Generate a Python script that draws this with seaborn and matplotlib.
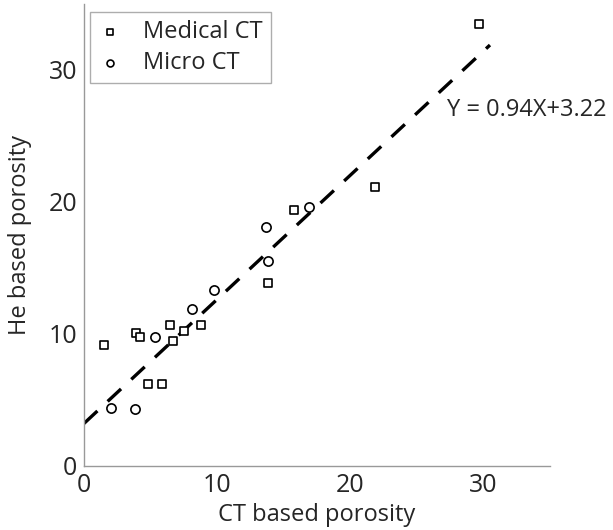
import numpy as np
import pandas as pd
import matplotlib.pyplot as plt
import seaborn as sns

# Valores
medical_x = [1.5, 3.9, 4.2, 6.45, 6.7, 7.5, 8.8, 4.8, 5.85, 13.8, 15.8, 21.9, 29.7]
medical_y = [9.2, 10.1, 9.8, 10.7, 9.5, 10.2, 10.7, 6.2, 6.2, 13.85, 19.4, 21.15, 33.5]
micro_x = [2.0, 3.8, 5.3, 8.1, 9.8, 13.8, 13.7, 16.9]
micro_y = [4.4, 4.3, 9.8, 11.9, 13.3, 15.55, 18.1, 19.6]

pendiente = 0.94
intercepto = 3.22
ajuste_x = [0, 30.5]

sns.set_style("white")
plt.rcParams["font.family"] = ["Open Sans", "DejaVu Sans"]

df_medical = pd.DataFrame({"x": medical_x, "y": medical_y})
df_micro = pd.DataFrame({"x": micro_x, "y": micro_y})

fig = plt.figure(figsize=(6.13, 5.3), dpi=100)
ax = fig.add_axes([0.137, 0.1208, 0.76, 0.8717])

sns.scatterplot(data=df_medical, x="x", y="y", marker="s", s=30, color="white",
                edgecolor="black", linewidth=1.2, ax=ax, label="Medical CT", zorder=3)
sns.scatterplot(data=df_micro, x="x", y="y", marker="o", s=44, color="white",
                edgecolor="black", linewidth=1.2, ax=ax, label="Micro CT", zorder=3)

xs = np.array(ajuste_x)
ax.plot(xs, pendiente * xs + intercepto, color="black", linewidth=2.4,
        dashes=(5.5, 4.2), zorder=2)

ax.text(27.3, 27.0, f"Y = {pendiente}X+{intercepto}", fontsize=17, va="center",
        ha="left", clip_on=False)

ax.set_xlim(0, 35)
ax.set_ylim(0, 35)
ax.set_xticks([0, 10, 20, 30])
ax.set_yticks([0, 10, 20, 30])
ax.set_xlabel("CT based porosity", fontsize=17, labelpad=4)
ax.set_ylabel("He based porosity", fontsize=17, labelpad=12)
ax.tick_params(direction="in", length=4, color="#999999", labelsize=18)
ax.tick_params(axis="x", pad=5)
ax.tick_params(axis="y", pad=5)

for lado in ["top", "right"]:
    ax.spines[lado].set_visible(False)
for lado in ["left", "bottom"]:
    ax.spines[lado].set_color("#999999")
    ax.spines[lado].set_linewidth(1.0)

leg = ax.legend(loc="upper left", bbox_to_anchor=(0.013, 0.983), borderaxespad=0,
                fontsize=17, frameon=True, fancybox=False, borderpad=0.35,
                handletextpad=0.9, handlelength=1.0, labelspacing=0.3,
                markerscale=0.75)
leg.get_frame().set_edgecolor("#999999")
leg.get_frame().set_linewidth(1.0)

fig.savefig("out.png", dpi=100)
